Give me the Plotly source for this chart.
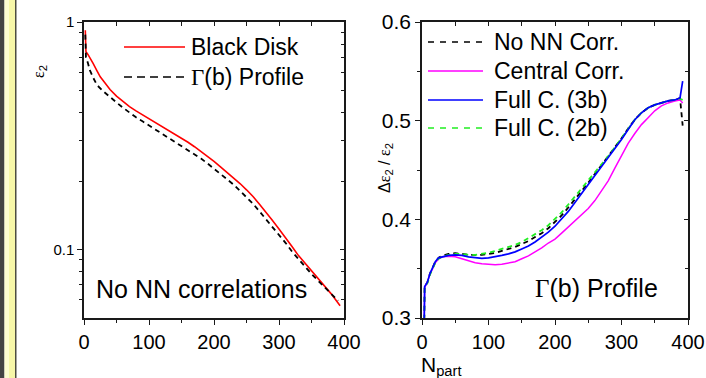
import plotly.graph_objects as go

W, H = 706, 378

# ---------------- data ----------------
# Left panel: eps2 vs Npart (log scale)
npart_bd = [2, 3, 6, 10, 14, 20, 25, 30, 40, 50, 60, 70, 80, 90, 100, 110, 120, 130, 140, 150, 160, 170, 180, 190,
            200, 210, 220, 230, 240, 250, 260, 270, 280, 290, 300, 310, 320, 330, 340, 350, 360, 370, 380, 394]
eps2_bd = [0.92, 0.74, 0.72, 0.69, 0.658, 0.61, 0.574, 0.55, 0.505, 0.472, 0.447, 0.425, 0.407, 0.391, 0.376, 0.362,
           0.348, 0.335, 0.322, 0.309, 0.296, 0.283, 0.270, 0.257, 0.244, 0.231, 0.219, 0.207, 0.195, 0.183, 0.171,
           0.158, 0.146, 0.134, 0.123, 0.113, 0.103, 0.094, 0.087, 0.080, 0.074, 0.069, 0.064, 0.0566]

npart_gp = [2, 3, 6, 9, 14, 20, 30, 40, 50, 60, 70, 80, 90, 100, 110, 120, 130, 140, 150, 160, 170, 180, 190, 200,
            210, 220, 230, 240, 250, 260, 270, 280, 290, 300, 310, 320, 330, 340, 350, 360, 370, 380, 391]
eps2_gp = [0.88, 0.70, 0.66, 0.614, 0.57, 0.528, 0.495, 0.466, 0.443, 0.42, 0.399, 0.381, 0.366, 0.351, 0.337, 0.324,
           0.312, 0.299, 0.287, 0.275, 0.263, 0.251, 0.239, 0.227, 0.215, 0.204, 0.193, 0.181, 0.170, 0.159, 0.147,
           0.136, 0.125, 0.116, 0.107, 0.098, 0.0905, 0.084, 0.078, 0.073, 0.068, 0.064, 0.0596]

# Right panel: delta eps2 / eps2 vs Npart
npart_r = [3, 4, 8, 12, 16, 20, 25, 30, 40, 50, 60, 70, 80, 90, 100, 110, 120, 130, 140, 150, 160, 170, 180, 190,
           200, 210, 220, 230, 240, 250, 260, 270, 280, 290, 300, 310, 320, 330, 340, 350, 360, 370, 380, 388, 392]
r_nonn = [0.28, 0.332, 0.336, 0.345, 0.351, 0.357, 0.361, 0.363, 0.365, 0.3656, 0.365, 0.364, 0.364, 0.364, 0.365,
          0.366, 0.368, 0.370, 0.372, 0.375, 0.378, 0.382, 0.386, 0.391, 0.397, 0.404, 0.412, 0.420, 0.429, 0.437,
          0.446, 0.455, 0.463, 0.472, 0.482, 0.492, 0.501, 0.508, 0.513, 0.516, 0.518, 0.520, 0.521, 0.523, 0.495]
r_central = [0.28, 0.331, 0.336, 0.345, 0.350, 0.356, 0.360, 0.362, 0.3625, 0.362, 0.360, 0.358, 0.356, 0.355, 0.3545,
             0.354, 0.3545, 0.3555, 0.357, 0.360, 0.363, 0.367, 0.371, 0.376, 0.380, 0.386, 0.392, 0.398, 0.404,
             0.411, 0.419, 0.429, 0.439, 0.452, 0.465, 0.477, 0.487, 0.496, 0.503, 0.510, 0.515, 0.518, 0.520,
             0.521, 0.518]
r_full3b = [0.28, 0.332, 0.336, 0.345, 0.351, 0.357, 0.361, 0.362, 0.3635, 0.364, 0.3635, 0.362, 0.361, 0.3605, 0.361,
            0.362, 0.3635, 0.365, 0.367, 0.370, 0.373, 0.377, 0.382, 0.387, 0.393, 0.400, 0.408, 0.417, 0.426, 0.435,
            0.444, 0.453, 0.462, 0.471, 0.481, 0.491, 0.501, 0.508, 0.513, 0.516, 0.518, 0.520, 0.521, 0.523, 0.540]
r_full2b = [0.28, 0.331, 0.335, 0.344, 0.350, 0.356, 0.360, 0.362, 0.364, 0.365, 0.365, 0.364, 0.364, 0.365, 0.366,
            0.368, 0.370, 0.372, 0.374, 0.377, 0.381, 0.385, 0.389, 0.394, 0.400, 0.407, 0.415, 0.423, 0.431, 0.439,
            0.448, 0.456, 0.464, 0.473, 0.482, 0.492, 0.501, 0.508, 0.513, 0.516, 0.518, 0.520, 0.521, 0.522, 0.521]

x_ticks = [0, 100, 200, 300, 400]
x_minor = [50, 150, 250, 350]
left_y_ticks = [0.1, 1]
left_y_ticktext = ["0.1", "1"]
left_y_minor = [0.06, 0.07, 0.08, 0.09, 0.2, 0.3, 0.4, 0.5, 0.6, 0.7, 0.8, 0.9]
right_y_ticks = [0.3, 0.4, 0.5, 0.6]
right_y_minor = [0.35, 0.45, 0.55]

# ---------------- layout helpers ----------------
def px(x):
    return x / W


def py(y):
    return 1 - y / H


FONT = "Liberation Sans, Arial, sans-serif"
AXC = "#1a1a1a"
DASH = "5px,4px"

fig = go.Figure()

# left panel traces
fig.add_trace(go.Scatter(x=npart_bd, y=eps2_bd, mode="lines", line=dict(color="#ff0000", width=1.6),
                         xaxis="x", yaxis="y", showlegend=False))
fig.add_trace(go.Scatter(x=npart_gp, y=eps2_gp, mode="lines", line=dict(color="black", width=1.8, dash=DASH),
                         xaxis="x", yaxis="y", showlegend=False))

# right panel traces
fig.add_trace(go.Scatter(x=npart_r, y=r_nonn, mode="lines", line=dict(color="black", width=1.8, dash=DASH),
                         xaxis="x2", yaxis="y2", showlegend=False))
fig.add_trace(go.Scatter(x=npart_r, y=r_central, mode="lines", line=dict(color="#ff00ff", width=1.5),
                         xaxis="x2", yaxis="y2", showlegend=False))
fig.add_trace(go.Scatter(x=npart_r, y=r_full2b, mode="lines", line=dict(color="#22ee22", width=1.8, dash=DASH),
                         xaxis="x2", yaxis="y2", showlegend=False))
fig.add_trace(go.Scatter(x=npart_r, y=r_full3b, mode="lines", line=dict(color="#0000ff", width=1.7),
                         xaxis="x2", yaxis="y2", showlegend=False))

# dummy traces to carry mirrored (inside-tick) axes
fig.add_trace(go.Scatter(x=[None], y=[None], xaxis="x3", yaxis="y3", showlegend=False, hoverinfo="skip"))
fig.add_trace(go.Scatter(x=[None], y=[None], xaxis="x4", yaxis="y4", showlegend=False, hoverinfo="skip"))

ydom = [py(318), py(22)]
xdomL = [px(84), px(344)]
xdomR = [px(422), px(688)]
ylog_range = [-1.30103, 0]

common = dict(showgrid=False, zeroline=False, linecolor=AXC, linewidth=1.5, tickcolor=AXC, tickwidth=1.2,
              automargin=False)

fig.update_layout(
    width=W, height=H, autosize=False,
    margin=dict(l=0, r=0, t=0, b=0, pad=0, autoexpand=False),
    paper_bgcolor="white", plot_bgcolor="white",
    font=dict(family=FONT, color="black"),
    xaxis=dict(domain=xdomL, range=[0, 400], anchor="y", showline=True, mirror=True, ticks="outside", ticklen=5,
               tickmode="array", tickvals=x_ticks, tickfont=dict(size=20, family=FONT),
               minor=dict(tickmode="array", tickvals=x_minor, ticks="outside", ticklen=3, tickcolor=AXC),
               **common),
    yaxis=dict(domain=ydom, type="log", range=ylog_range, anchor="x", showline=True, mirror=True, ticks="outside",
               ticklen=5, tickmode="array", tickvals=left_y_ticks, ticktext=left_y_ticktext,
               tickfont=dict(size=15, family=FONT),
               minor=dict(tickmode="array", tickvals=left_y_minor, ticks="outside", ticklen=3, tickcolor=AXC),
               **common),
    xaxis3=dict(overlaying="x", side="top", anchor="y", range=[0, 400], ticks="inside", ticklen=4,
                tickmode="array", tickvals=x_ticks, showticklabels=False, showline=False,
                minor=dict(tickmode="array", tickvals=x_minor, ticks="inside", ticklen=4, tickcolor=AXC),
                **common),
    yaxis3=dict(overlaying="y", side="right", anchor="x", type="log", range=ylog_range, ticks="inside", ticklen=4,
                tickmode="array", tickvals=left_y_ticks, showticklabels=False, showline=False,
                minor=dict(tickmode="array", tickvals=left_y_minor, ticks="inside", ticklen=3, tickcolor=AXC),
                **common),
    xaxis2=dict(domain=xdomR, range=[0, 400], anchor="y2", showline=True, mirror=True, ticks="outside", ticklen=5,
                tickmode="array", tickvals=x_ticks, tickfont=dict(size=20, family=FONT),
                minor=dict(tickmode="array", tickvals=x_minor, ticks="outside", ticklen=3, tickcolor=AXC),
                **common),
    yaxis2=dict(domain=ydom, range=[0.3, 0.6], anchor="x2", showline=True, mirror=True, ticks="outside", ticklen=5,
                tickmode="array", tickvals=right_y_ticks, ticktext=["0.3", "0.4", "0.5", "0.6"],
                tickfont=dict(size=21, family=FONT),
                minor=dict(tickmode="array", tickvals=right_y_minor, ticks="outside", ticklen=3, tickcolor=AXC),
                **common),
    xaxis4=dict(overlaying="x2", side="top", anchor="y2", range=[0, 400], ticks="inside", ticklen=4,
                tickmode="array", tickvals=x_ticks, showticklabels=False, showline=False,
                minor=dict(tickmode="array", tickvals=x_minor, ticks="inside", ticklen=4, tickcolor=AXC),
                **common),
    yaxis4=dict(overlaying="y2", side="right", anchor="x2", range=[0.3, 0.6], ticks="inside", ticklen=4,
                tickmode="array", tickvals=right_y_ticks, showticklabels=False, showline=False,
                minor=dict(tickmode="array", tickvals=right_y_minor, ticks="inside", ticklen=3, tickcolor=AXC),
                **common),
)

shapes = []
# left decorative strip drawn as thick vertical lines (centre x, width in px)
for xc, wpx, col in [(2.25, 4.5, "#444444"), (6.75, 4.5, "#fdfdd2"), (12.0, 6.0, "#f7f7a8"), (15.75, 1.5, "#4d4d40")]:
    shapes.append(dict(type="line", xref="paper", yref="paper", x0=px(xc), x1=px(xc), y0=0, y1=1,
                       line=dict(color=col, width=wpx), layer="above"))

annotations = []


def legend_row(x0, x1, y, color, dash, label, tx):
    shapes.append(dict(type="line", xref="paper", yref="paper", x0=px(x0), x1=px(x1), y0=py(y), y1=py(y),
                       line=dict(color=color, width=1.7, dash=dash)))
    annotations.append(dict(xref="paper", yref="paper", x=px(tx), y=py(y), text=label, showarrow=False,
                            xanchor="left", yanchor="middle", font=dict(size=23, family=FONT, color="black")))


G = "<span style=\"font-family:Liberation Serif\">Γ</span>"
E = "<span style=\"font-family:Liberation Serif\">ε</span>"

legend_row(124, 185, 47, "#ff0000", "solid", "Black Disk", 189)
legend_row(124, 185, 77, "black", "8px,5px", G + "(b) Profile", 189)

legend_row(428, 483, 42, "black", "6px,6px", "No NN Corr.", 492)
legend_row(428, 483, 71, "#ff00ff", "solid", "Central Corr.", 492)
legend_row(428, 483, 100, "#0000ff", "solid", "Full C. (3b)", 492)
legend_row(428, 483, 128, "#22ee22", "6px,6px", "Full C. (2b)", 492)

annotations.append(dict(xref="paper", yref="paper", x=px(94), y=py(289), text="No NN correlations",
                        showarrow=False, xanchor="left", yanchor="middle", font=dict(size=25, family=FONT)))
annotations.append(dict(xref="paper", yref="paper", x=px(533), y=py(288), text=G + "(b) Profile",
                        showarrow=False, xanchor="left", yanchor="middle", font=dict(size=25, family=FONT)))
annotations.append(dict(xref="paper", yref="paper", x=px(39), y=py(72), text=E + "<sub>2</sub>",
                        showarrow=False, textangle=-90, xanchor="center", yanchor="middle",
                        font=dict(size=16, family=FONT)))
annotations.append(dict(xref="paper", yref="paper", x=px(385), y=py(168),
                        text="Δ" + E + "<sub>2</sub> / " + E + "<sub>2</sub>",
                        showarrow=False, textangle=-90, xanchor="center", yanchor="middle",
                        font=dict(size=16, family=FONT)))
annotations.append(dict(xref="paper", yref="paper", x=px(419), y=py(351), text="N<sub>part</sub>",
                        showarrow=False, xanchor="left", yanchor="top", font=dict(size=21, family=FONT)))

fig.update_layout(shapes=shapes, annotations=annotations)

fig.write_html("out.html", config={"displayModeBar": False},
               post_script="document.body.style.margin='0';document.body.style.overflow='hidden';")
